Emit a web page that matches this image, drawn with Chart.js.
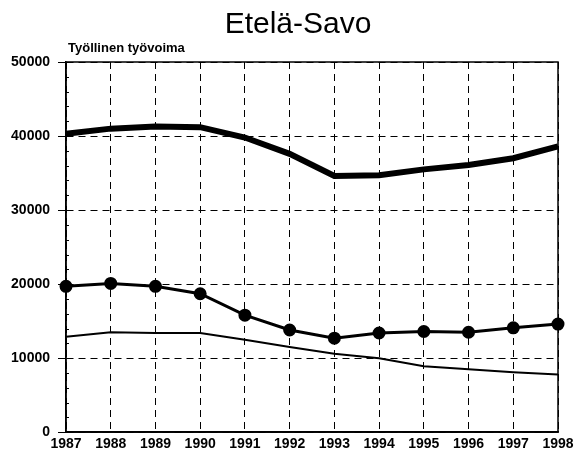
<!DOCTYPE html>
<html><head><meta charset="utf-8">
<script src="https://cdn.jsdelivr.net/npm/chart.js@4"></script>
<style>html,body{margin:0;padding:0;background:#fff}#wrap{width:575px;height:458px}</style>
</head><body><div id="wrap"><canvas id="c"></canvas></div>
<script>
const years = ['1987','1988','1989','1990','1991','1992','1993','1994','1995','1996','1997','1998'];
const seriesThick = [40300, 41000, 41300, 41200, 39800, 37600, 34600, 34700, 35500, 36100, 37000, 38600];
const seriesMarkers = [19700, 20100, 19700, 18700, 15800, 13800, 12700, 13400, 13600, 13500, 14100, 14600];
const seriesThin = [12900, 13500, 13400, 13400, 12500, 11500, 10600, 10000, 8900, 8500, 8100, 7800];
const yTitle = 'Työllinen työvoima';
const chartTitle = 'Etelä-Savo';

const FONT = '"Liberation Sans", Arial, sans-serif';

const framePlugin = {
  id: 'frame',
  afterDraw(chart) {
    const {ctx, chartArea: a} = chart;
    const ys = chart.scales.y;
    ctx.save();
    ctx.strokeStyle = '#000';
    ctx.lineWidth = 1.5;
    ctx.strokeRect(a.left, a.top, a.right - a.left, a.bottom - a.top);
    // minor ticks
    ctx.lineWidth = 1;
    ctx.beginPath();
    for (let v = 2000; v < 50000; v += 2000) {
      if (v % 10000 === 0) continue;
      const py = Math.round(ys.getPixelForValue(v)) + 0.5;
      ctx.moveTo(a.left, py); ctx.lineTo(a.left + 3, py);
    }
    ctx.stroke();
    ctx.fillStyle = '#000';
    ctx.font = 'bold 13px ' + FONT;
    ctx.textBaseline = 'alphabetic';
    ctx.textAlign = 'left';
    ctx.fillText(yTitle, a.left + 2, 52);
    ctx.font = '30px ' + FONT;
    ctx.textAlign = 'center';
    ctx.fillText(chartTitle, 298, 33);
    ctx.restore();
  }
};

new Chart(document.getElementById('c'), {
  type: 'line',
  data: {
    labels: years,
    datasets: [
      {data: seriesThick, borderColor: '#000', borderWidth: 6, pointRadius: 0, tension: 0},
      {data: seriesMarkers, borderColor: '#000', backgroundColor: '#000', borderWidth: 3, pointRadius: 5, pointHoverRadius: 5, tension: 0},
      {data: seriesThin, borderColor: '#000', borderWidth: 2, pointRadius: 0, tension: 0}
    ]
  },
  options: {
    responsive: true,
    maintainAspectRatio: false,
    animation: false,
    layout: {padding: {left: 0, right: 0, top: 62, bottom: 1}},
    plugins: {
      legend: {display: false},
      tooltip: {enabled: false},
      title: {display: false}
    },
    scales: {
      x: {
        offset: false,
        afterFit(s) { s.paddingRight = 17; },
        grid: {color: '#000', lineWidth: 1, drawTicks: false},
        border: {color: '#000', width: 1.5, dash: [7, 5]},
        ticks: {color: '#000', font: {family: FONT, size: 14, weight: 'bold'}, padding: 4, maxRotation: 0, autoSkip: false}
      },
      y: {
        min: 0, max: 50000,
        afterFit(s) { s.width = 66; },
        ticks: {stepSize: 10000, color: '#000', padding: 8, autoSkip: false,
          font: {family: FONT, size: 14, weight: 'bold'}, callback: v => String(v)},
        grid: {color: '#000', tickColor: '#000', tickLength: 8, lineWidth: 1},
        border: {color: '#000', width: 1.5, dash: [7, 5]}
      }
    }
  },
  plugins: [framePlugin]
});
</script>
</body></html>
